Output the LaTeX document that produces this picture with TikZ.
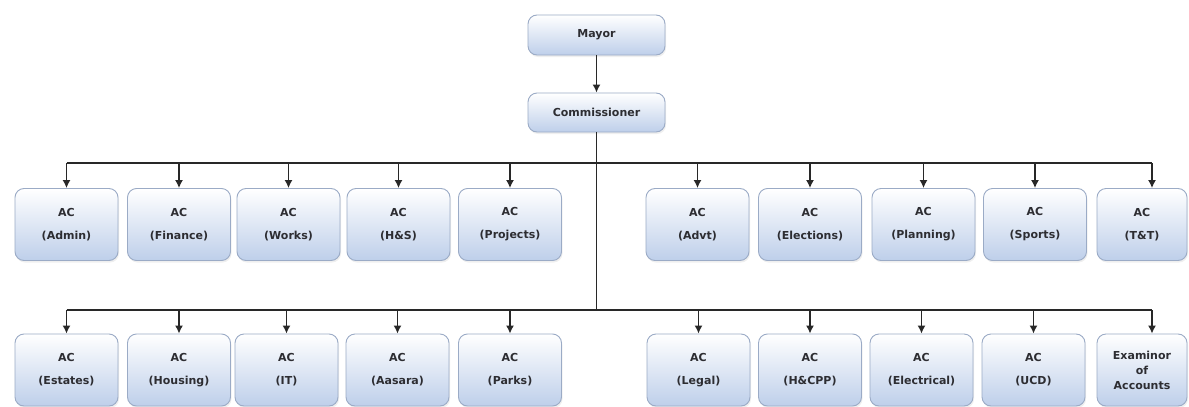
\documentclass[tikz,border=0pt]{standalone}
\usepackage{fontspec}
\setmainfont{DejaVu Sans}
\usetikzlibrary{arrows.meta,shadows}
\definecolor{boxbot}{RGB}{190,207,234}
\definecolor{boxedge}{RGB}{155,171,198}
\definecolor{txt}{RGB}{45,45,50}
\definecolor{ln}{RGB}{40,40,40}
\tikzset{
  orgbox/.style={draw=boxedge, line width=0.9pt, rounded corners=9pt,
    top color=white, bottom color=boxbot, middle color=white!50!boxbot,
    minimum width=103pt, minimum height=72pt, inner sep=0pt,
    text=txt, align=center, font=\fontsize{11}{23}\selectfont\bfseries,
    drop shadow={opacity=0.12, shadow xshift=1pt, shadow yshift=-2pt}},
  topbox/.style={orgbox, minimum width=137pt, minimum height=40pt},
  link/.style={draw=ln, line width=1.4pt},
  arr/.style={link, -{Latex[length=8pt,width=8pt]}}
}
\begin{document}
\begin{tikzpicture}[x=1pt,y=-1pt]
\useasboundingbox[fill=white] (0,0) rectangle (1189,407);
% top
\node[topbox] (mayor) at (596.5,35) {Mayor};
\node[topbox, minimum height=39pt] (comm) at (596.5,112.5) {Commissioner};
\coordinate (bus1) at (596.5,163);
\coordinate (bus2) at (596.5,310);
% row 1
\node[orgbox] (admin) at (66.5,224.5) {AC\\(Admin)};
\node[orgbox] (fin) at (179,224.5) {AC\\(Finance)};
\node[orgbox] (works) at (288.5,224.5) {AC\\(Works)};
\node[orgbox] (hs) at (398.5,224.5) {AC\\(H\&S)};
\node[orgbox] (proj) at (510,224.5) {AC\\(Projects)};
\node[orgbox] (advt) at (697.5,224.5) {AC\\(Advt)};
\node[orgbox] (elec) at (810,224.5) {AC\\(Elections)};
\node[orgbox] (plan) at (923.5,224.5) {AC\\(Planning)};
\node[orgbox] (sport) at (1035,224.5) {AC\\(Sports)};
\node[orgbox, minimum width=90pt] (tt) at (1142,224.5) {AC\\(T\&T)};
% row 2
\node[orgbox] (est) at (66.5,370) {AC\\(Estates)};
\node[orgbox] (hous) at (179,370) {AC\\(Housing)};
\node[orgbox] (it) at (286.5,370) {AC\\(IT)};
\node[orgbox] (aas) at (397.5,370) {AC\\(Aasara)};
\node[orgbox] (parks) at (510,370) {AC\\(Parks)};
\node[orgbox] (legal) at (698.5,370) {AC\\(Legal)};
\node[orgbox] (hcpp) at (810,370) {AC\\(H\&CPP)};
\node[orgbox] (elect) at (921.5,370) {AC\\(Electrical)};
\node[orgbox] (ucd) at (1033.5,370) {AC\\(UCD)};
\node[orgbox, minimum width=90pt, font=\fontsize{11}{15}\selectfont\bfseries] (exam) at (1142,370) {Examinor\\of\\Accounts};
% connectors
\draw[arr] (mayor.south) -- (comm.north);
\draw[link] (comm.south) -- (bus2);
\draw[link] (admin.north |- bus1) -- ([xshift=10pt]tt.north |- bus1);
\draw[link] (est.north |- bus2) -- ([xshift=10pt]exam.north |- bus2);
\foreach \n in {admin,fin,works,hs,proj,advt,elec,plan,sport}
  \draw[arr] (\n.north |- bus1) -- (\n.north);
\draw[arr] ([xshift=10pt]tt.north |- bus1) -- ([xshift=10pt]tt.north);
\foreach \n in {est,hous,it,aas,parks,legal,hcpp,elect,ucd}
  \draw[arr] (\n.north |- bus2) -- (\n.north);
\draw[arr] ([xshift=10pt]exam.north |- bus2) -- ([xshift=10pt]exam.north);
\end{tikzpicture}
\end{document}
